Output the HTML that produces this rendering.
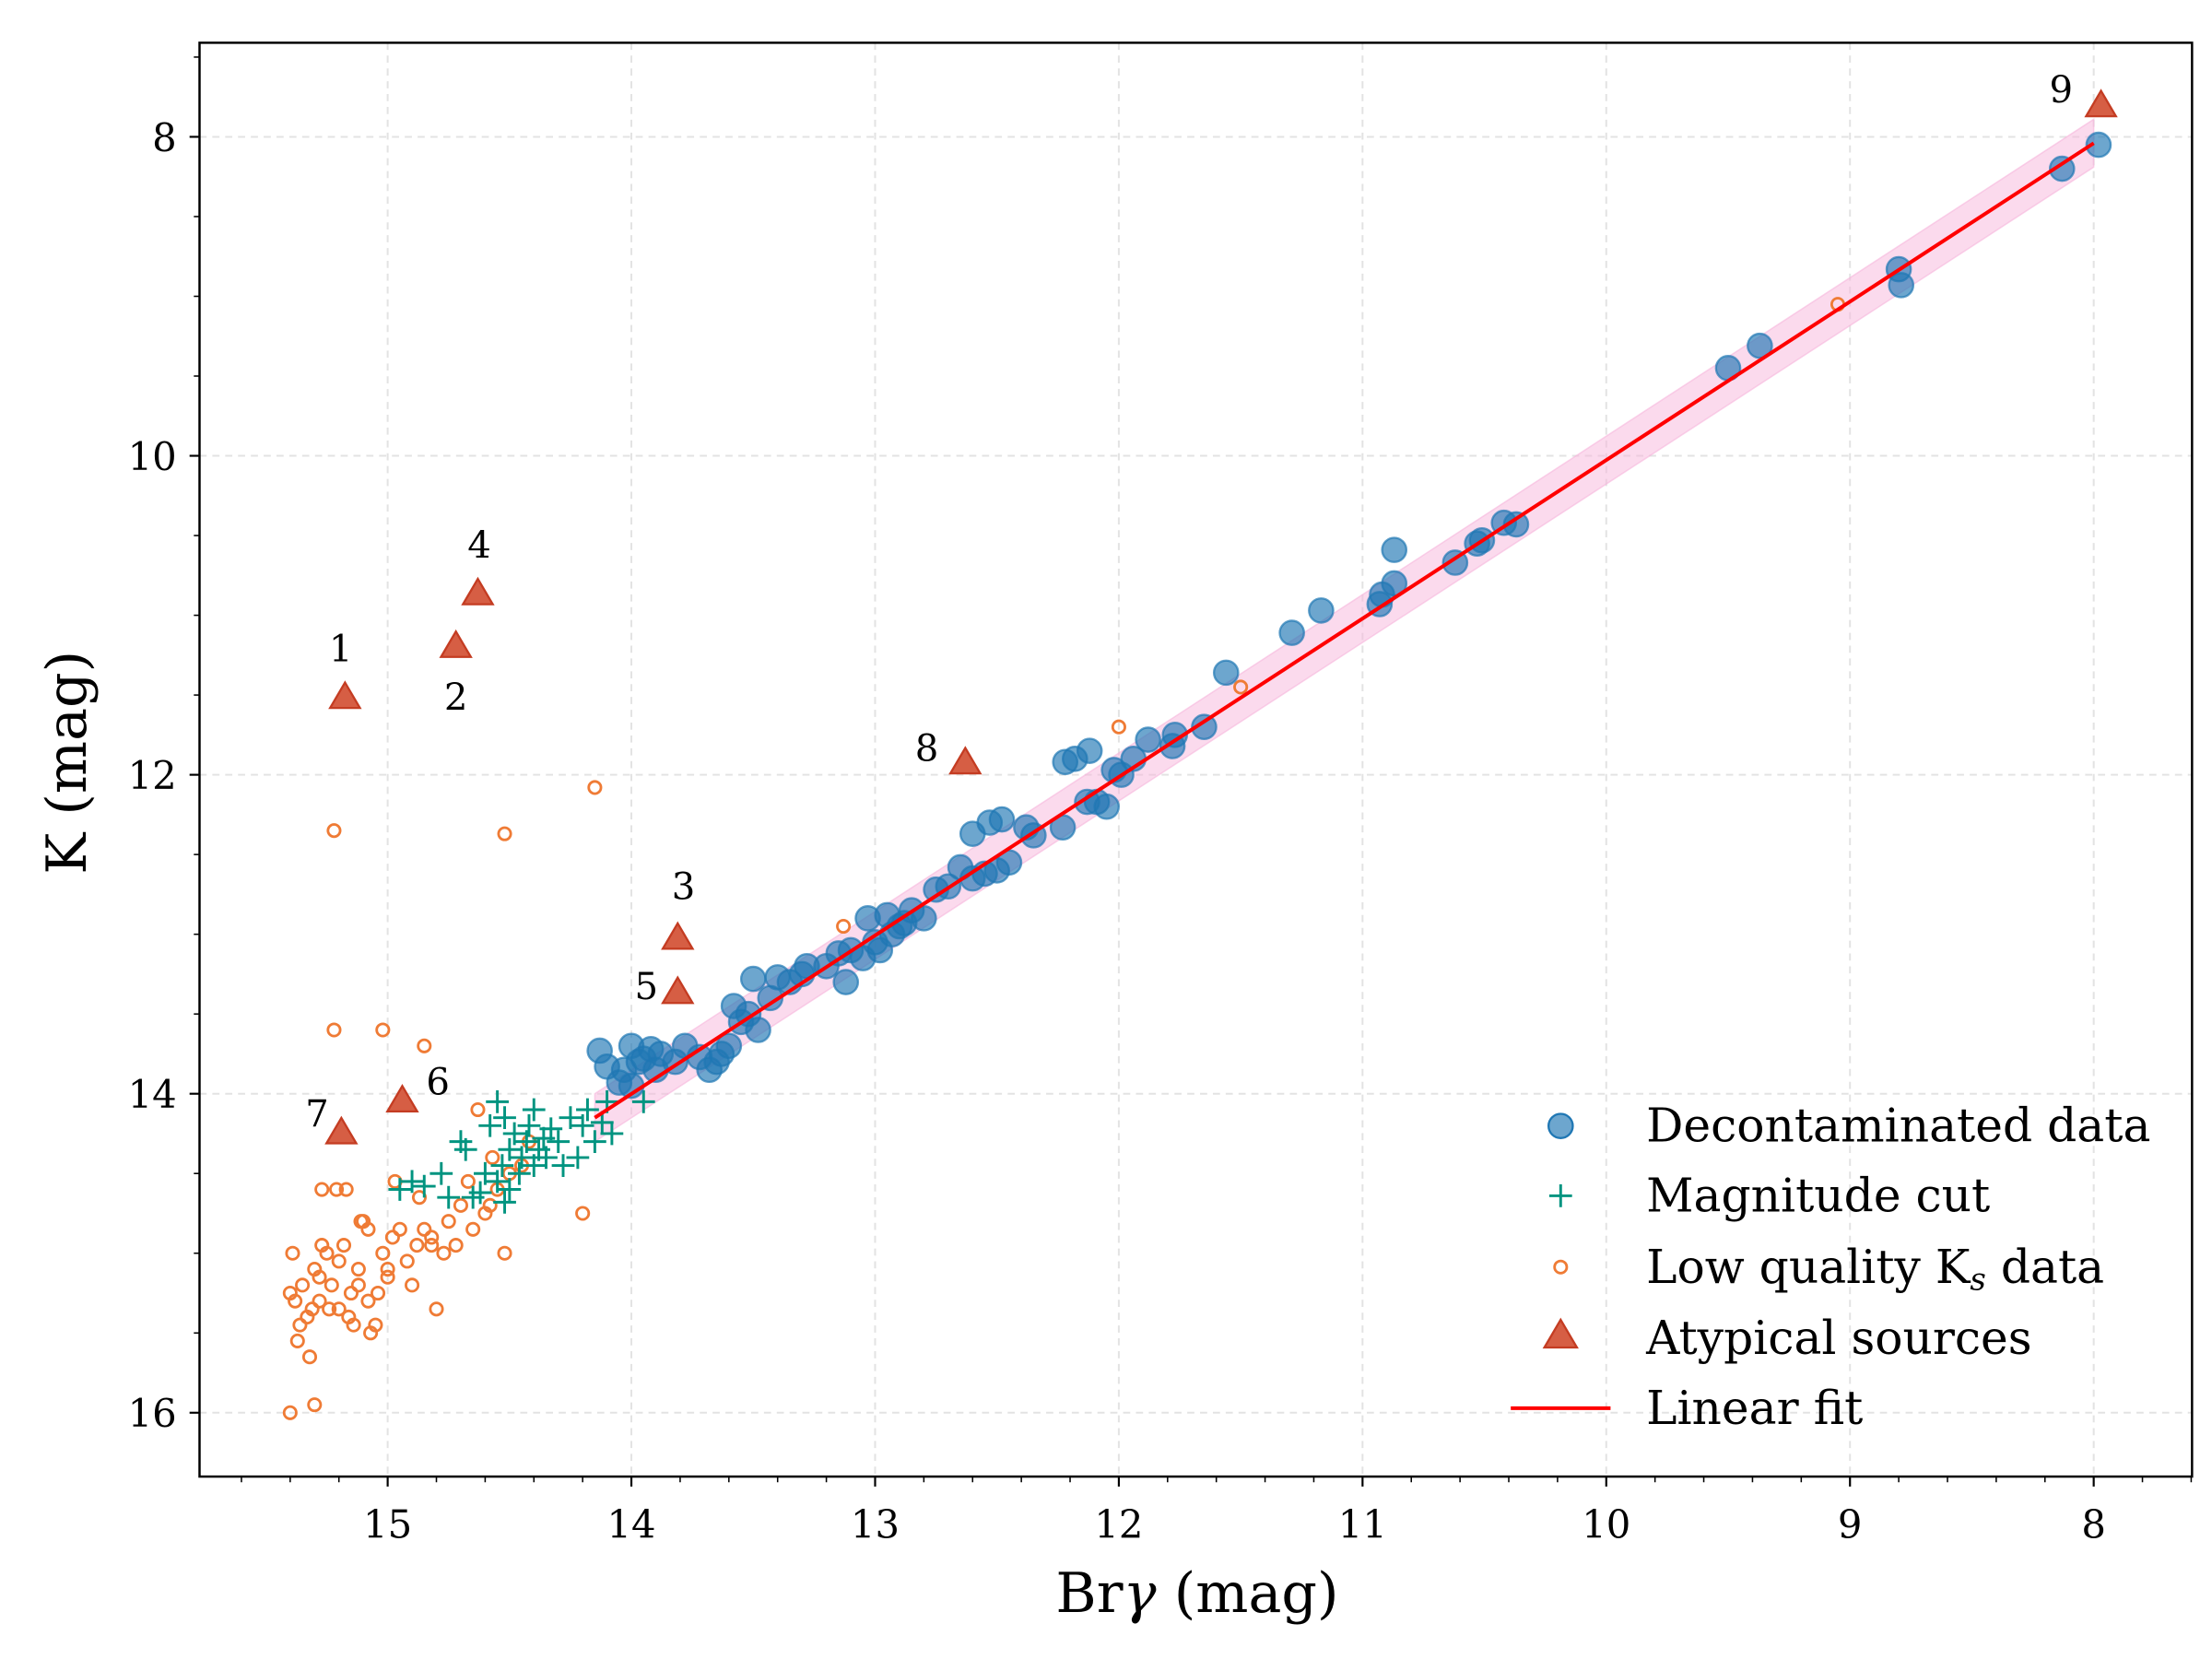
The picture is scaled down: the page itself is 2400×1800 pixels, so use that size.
<!DOCTYPE html>
<html><head><meta charset="utf-8">
<style>
html,body{margin:0;padding:0;background:#fff;}
svg{display:block;}
text{font-family:"DejaVu Serif","Liberation Serif",serif;}
</style></head>
<body>
<svg id="chart" width="2400" height="1800" viewBox="0 0 1552 1164" xmlns="http://www.w3.org/2000/svg">
<rect width="1552" height="1164" fill="#fff"/>
<g id="grid"></g>
<g id="band"></g>
<g id="marks"></g>
<g id="axes"></g>
<g id="legend"></g>
</svg>
<script>
const decontBr=[7.98,8.13,8.8,8.79,9.37,9.5,10.37,10.42,10.51,10.53,10.62,10.87,10.87,10.92,10.93,11.17,11.29,11.56,11.65,11.77,11.78,11.88,11.94,11.99,12.02,12.05,12.09,12.13,12.12,12.18,12.22,12.23,12.35,12.38,12.48,12.53,12.5,12.55,12.6,12.6,12.65,12.7,12.75,12.8,12.85,12.88,12.93,12.95,12.98,13.0,13.03,13.05,13.1,13.12,13.15,13.2,13.28,13.35,13.4,13.43,13.48,13.5,13.52,13.55,13.58,13.6,13.63,13.68,13.72,13.78,13.82,13.88,13.9,13.92,13.95,13.97,14.0,14.03,14.05,14.13,14.1,14.0,13.3,13.65,12.9,12.45];
const decontK=[8.05,8.2,8.83,8.93,9.31,9.45,10.43,10.42,10.53,10.55,10.67,10.59,10.8,10.87,10.93,10.97,11.11,11.36,11.7,11.75,11.82,11.78,11.9,12.0,11.97,12.2,12.17,12.17,11.85,11.9,11.92,12.33,12.38,12.33,12.28,12.3,12.6,12.62,12.37,12.65,12.58,12.7,12.72,12.9,12.85,12.93,13.0,12.88,13.1,13.05,12.9,13.15,13.1,13.3,13.12,13.2,13.2,13.3,13.27,13.4,13.6,13.28,13.5,13.55,13.45,13.7,13.75,13.85,13.77,13.7,13.8,13.75,13.85,13.72,13.78,13.8,13.7,13.85,13.93,13.73,13.83,13.95,13.25,13.8,12.95,12.55];
const cutBr=[14.95,14.9,14.85,14.78,14.75,14.7,14.68,14.65,14.6,14.58,14.55,14.55,14.53,14.52,14.5,14.5,14.48,14.46,14.45,14.43,14.42,14.4,14.4,14.38,14.36,14.35,14.33,14.3,14.28,14.25,14.22,14.2,14.18,14.15,14.12,14.1,14.08,13.95,14.62,14.52];
const cutK=[14.6,14.55,14.58,14.5,14.65,14.3,14.35,14.65,14.5,14.2,14.05,14.55,14.45,14.15,14.6,14.35,14.25,14.5,14.4,14.3,14.2,14.1,14.45,14.35,14.28,14.4,14.22,14.3,14.45,14.15,14.4,14.2,14.1,14.3,14.18,14.05,14.25,14.05,14.62,14.68];
const lowBr=[15.22,14.52,14.15,15.22,15.02,14.85,13.13,12.0,11.5,9.05,14.63,14.2,15.3,15.4,15.38,15.35,15.33,15.3,15.28,15.25,15.23,15.2,15.18,15.15,15.12,15.1,15.08,15.05,15.02,15.0,14.98,14.95,14.92,14.9,14.88,14.85,14.82,14.8,14.75,14.72,14.7,14.65,14.6,14.58,14.55,14.5,14.45,14.42,15.4,15.36,15.32,15.28,15.24,15.2,15.16,15.12,15.08,15.04,15.0,15.37,15.27,15.17,15.07,14.97,14.87,14.77,14.67,14.57,15.39,15.31,15.21,15.11,14.82,14.52,15.27,15.14];
const lowK=[12.35,12.37,12.08,13.6,13.6,13.7,12.95,11.7,11.45,9.05,14.1,14.75,15.95,16.0,15.3,15.2,15.4,15.1,15.3,15.0,15.2,15.35,14.95,15.25,15.1,14.8,15.3,15.45,15.0,15.15,14.9,14.85,15.05,15.2,14.95,14.85,14.9,15.35,14.8,14.95,14.7,14.85,14.75,14.7,14.6,14.5,14.45,14.3,15.25,15.45,15.65,15.15,15.35,15.05,15.4,15.2,14.85,15.25,15.1,15.55,14.95,14.6,15.5,14.55,14.65,15.0,14.55,14.4,15.0,15.35,14.6,14.8,14.95,15.0,14.6,15.45];
const atypBr=[15.175,14.72,13.81,14.63,13.81,14.94,15.19,12.63,7.97];
const atypK=[11.52,11.2,13.03,10.87,13.37,14.05,14.25,11.93,7.81];
const atypLabels=["1","2","3","4","5","6","7","8","9"];
const labelDx=[-3,0,4,1,-22,25,-17,-27,-28];
const labelDy=[-26,44,-28,-26,4,-5,-5,-2,-3];
const fitStart=[14.15,14.15];
const fitEnd=[8.0,8.04];
const fitWidth=0.15;
const xTicks=[15,14,13,12,11,10,9,8];
const yTicks=[8,10,12,14,16];

const L=140,R=1538,T=30,B=1036;
const X=v=>272+(15-v)*171;
const Y=v=>96+(v-8)*111.9;
const NS="http://www.w3.org/2000/svg";
function mk(tag,parent,attrs){const e=document.createElementNS(NS,tag);for(const k in attrs)e.setAttribute(k,attrs[k]);parent.appendChild(e);return e;}
const grid=document.getElementById('grid'),band=document.getElementById('band'),marks=document.getElementById('marks'),axes=document.getElementById('axes'),legend=document.getElementById('legend');

xTicks.forEach(t=>{const l=mk('line',grid,{x1:X(t),x2:X(t),y1:T,y2:B,stroke:'#e3e3e3','stroke-width':1.3,'stroke-dasharray':'5,4'});
});
yTicks.forEach(t=>{const l=mk('line',grid,{x1:L,x2:R,y1:Y(t),y2:Y(t),stroke:'#e3e3e3','stroke-width':1.3,'stroke-dasharray':'5,4'});
});

const bw=fitWidth*111.9;
const bp=mk('polygon',band,{points:`${X(fitStart[0])},${Y(fitStart[1])-bw} ${X(fitEnd[0])},${Y(fitEnd[1])-bw} ${X(fitEnd[0])},${Y(fitEnd[1])+bw} ${X(fitStart[0])},${Y(fitStart[1])+bw}`,fill:'#f7b6dc','fill-opacity':0.5,stroke:'#f7b6dc','stroke-opacity':0.6});


lowBr.forEach((b,i)=>{const c=mk('circle',marks,{cx:X(b),cy:Y(lowK[i]),r:4.3,fill:'none',stroke:'#ef7b35','stroke-width':1.8});
});
cutBr.forEach((b,i)=>{const x=X(b),y=Y(cutK[i]);const p=mk('path',marks,{d:`M${x-8},${y}H${x+8}M${x},${y-8}V${y+8}`,stroke:'#009480','stroke-width':1.9});
});
decontBr.forEach((b,i)=>{const c=mk('circle',marks,{cx:X(b),cy:Y(decontK[i]),r:8.5,fill:'#1f77b4','fill-opacity':0.65,stroke:'#1f77b4','stroke-opacity':0.7,'stroke-width':1.5});
});
const fl=mk('line',marks,{x1:X(fitStart[0]),y1:Y(fitStart[1]),x2:X(fitEnd[0]),y2:Y(fitEnd[1]),stroke:'#ff0000','stroke-width':2.6});

function tri(parent,x,y,s){return mk('path',parent,{d:`M${x},${y-s}L${x+s*0.95},${y+s*0.62}L${x-s*0.95},${y+s*0.62}Z`,fill:'#d4553a','fill-opacity':0.95,stroke:'#c43c22','stroke-width':1.5});}
atypBr.forEach((b,i)=>{const x=X(b),y=Y(atypK[i]);const t=tri(marks,x,y,11);

const tx=mk('text',marks,{x:x+labelDx[i],y:y+labelDy[i],'font-size':26,'text-anchor':'middle',fill:'#000'});tx.textContent=atypLabels[i];
});

const fr=mk('rect',axes,{x:L,y:T,width:R-L,height:B-T,fill:'none',stroke:'#000','stroke-width':1.6});

for(let v=15.6;v>=7.6;v-=0.2){const vv=Math.round(v*10)/10;const x=X(vv);if(x<L||x>R)continue;const major=Math.abs(vv-Math.round(vv))<1e-6;
const l=mk('line',axes,{x1:x,x2:x,y1:B,y2:B+(major?7:4),stroke:'#000','stroke-width':major?1.4:1});}
for(let v=7.5;v<=16.5;v+=0.5){const y=Y(v);if(y<T||y>B)continue;const major=yTicks.includes(v);
const l=mk('line',axes,{x1:L,x2:L-(major?7:4),y1:y,y2:y,stroke:'#000','stroke-width':major?1.4:1});}
xTicks.forEach(t=>{const tx=mk('text',axes,{x:X(t),y:1079,'font-size':27,'text-anchor':'middle'});tx.textContent=t;
});
yTicks.forEach(t=>{const tx=mk('text',axes,{x:124,y:Y(t)+10,'font-size':27,'text-anchor':'end'});tx.textContent=t;
});
const xl=mk('text',axes,{x:840,y:1131,'font-size':39,'text-anchor':'middle'});xl.innerHTML='Br<tspan font-style="italic">γ</tspan> (mag)';

const yl=mk('text',axes,{x:60,y:535,'font-size':39,'text-anchor':'middle',transform:'rotate(-90 60 535)'});yl.textContent='K (mag)';


const ly=[790,839,889,939,988];
let e;
e=mk('circle',legend,{cx:1095,cy:ly[0],r:8.5,fill:'#1f77b4','fill-opacity':0.65,stroke:'#1f77b4','stroke-width':1.5});
e=mk('path',legend,{d:`M1087,${ly[1]}H1103M1095,${ly[1]-8}V${ly[1]+8}`,stroke:'#009480','stroke-width':1.9});
e=mk('circle',legend,{cx:1095,cy:ly[2],r:4.3,fill:'none',stroke:'#ef7b35','stroke-width':1.8});
e=tri(legend,1095,ly[3]-1,12);
e=mk('line',legend,{x1:1060,x2:1130,y1:ly[4],y2:ly[4],stroke:'#ff0000','stroke-width':2.6});
const labs=['Decontaminated data','Magnitude cut','Low quality K<tspan font-style="italic" font-size="22" dy="5">s</tspan><tspan dy="-5"> data</tspan>','Atypical sources','Linear fit'];
labs.forEach((s,i)=>{const t=mk('text',legend,{x:1155,y:ly[i]+11,'font-size':32.5});t.innerHTML=s;
});
</script>
</body></html>
